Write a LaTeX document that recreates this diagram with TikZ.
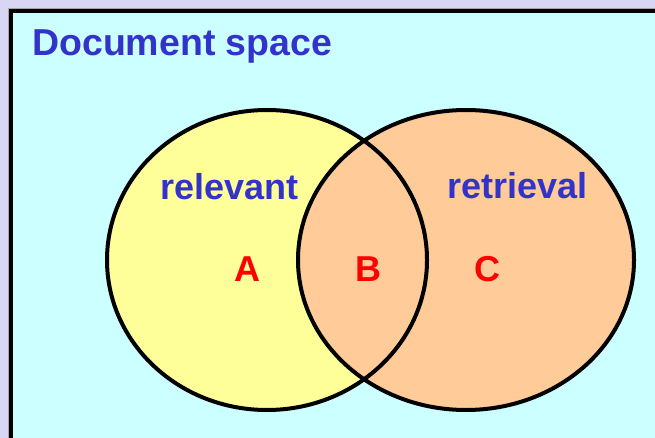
\documentclass[tikz,border=0pt]{standalone}
\usepackage{fontspec}
\setmainfont{Liberation Sans}
\usetikzlibrary{shapes.geometric}
\definecolor{lavender}{RGB}{216,214,244}
\definecolor{cyanbg}{RGB}{204,255,255}
\definecolor{yellowfill}{RGB}{255,255,153}
\definecolor{orangefill}{RGB}{255,204,153}
\definecolor{textblue}{RGB}{51,51,204}
\definecolor{textred}{RGB}{255,0,0}
\begin{document}
\begin{tikzpicture}[x=1pt,y=-1pt,
  setfill/.style={ellipse,inner sep=0pt,outer sep=0pt},
  setline/.style={line width=4pt,draw=black},
  bluelabel/.style={anchor=base west,inner sep=0pt,text=textblue,font=\fontsize{36}{40}\selectfont\bfseries},
  redlabel/.style={anchor=base,inner sep=0pt,text=textred,font=\fontsize{36}{40}\selectfont\bfseries}]
\useasboundingbox (0,0) rectangle (655,438);
\clip (0,0) rectangle (655,438);
\fill[lavender] (0,0) rectangle (655,438);
\draw[line width=1pt,gray!70] (8.3,460) -- (8.3,8.3) -- (700,8.3);
\draw[line width=4pt,fill=cyanbg] (11,11) rectangle (720,520);
% set fills
\node[setfill,fill=yellowfill,minimum width=320pt,minimum height=300pt] (L) at (267,260) {};
\node[setfill,fill=orangefill,minimum width=336pt,minimum height=300pt] (R) at (466,260) {};
% outlines
\draw[setline] (L.center) ellipse [x radius=160, y radius=150];
\draw[setline] (R.center) ellipse [x radius=168, y radius=150];
% texts
\node[bluelabel,font=\fontsize{37.5}{40}\selectfont\bfseries] (title) at (32,56) {Document space};
\node[bluelabel] (rel) at (160,200) {relevant};
\node[bluelabel] (ret) at (447,199) {retrieval};
\node[redlabel] (A) at (247,281) {A};
\node[redlabel] (B) at (368,281) {B};
\node[redlabel] (C) at (487,281) {C};
\end{tikzpicture}
\end{document}
